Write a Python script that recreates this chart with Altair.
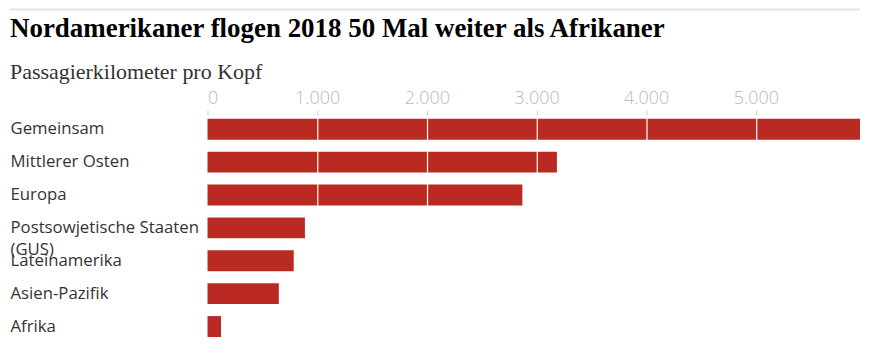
import altair as alt
import pandas as pd

regions = ["Gemeinsam", "Mittlerer Osten", "Europa", "Postsowjetische Staaten (GUS)",
           "Lateinamerika", "Asien-Pazifik", "Afrika"]
values = [5950, 3186, 2871, 888, 786, 650, 123]
x_ticks = [0, 1000, 2000, 3000, 4000, 5000]
title_text = "Nordamerikaner flogen 2018 50 Mal weiter als Afrikaner"
subtitle_text = "Passagierkilometer pro Kopf"

df = pd.DataFrame({"region": regions, "value": values})
one = pd.DataFrame({"k": [0]})

W, H = 654, 226
RED = "#ba2a23"

bars = alt.Chart(df).mark_bar(color=RED).encode(
    x=alt.X("value:Q",
            scale=alt.Scale(domain=[0, max(values)], nice=False, zero=True),
            axis=alt.Axis(orient="top", values=x_ticks, title=None,
                          labelExpr="replace(format(datum.value, ','), ',', '.')",
                          labelFont="Open Sans", labelFontSize=18, labelColor="#bababa",
                          labelFontWeight=300,
                          labelPadding=3, tickSize=5, tickColor="#cfcfcf", tickWidth=1,
                          domain=False, grid=True,
                          gridColor={"condition": {"test": "datum.value == 0", "value": "transparent"},
                                     "value": "#ffffff"},
                          gridWidth=1.2,
                          labelFlush=True, zindex=1)),
    y=alt.Y("region:N", sort=regions,
            scale=alt.Scale(paddingInner=0.3636, paddingOuter=0.11),
            axis=alt.Axis(title=None, ticks=False, domain=False, grid=False,
                          labelAlign="left", labelPadding=198,
                          labelBaseline="middle",
                          labelFont="Open Sans", labelFontSize=16.8, labelColor="#333333",
                          labelLineHeight=22, labelLimit=0,
                          labelExpr="datum.label == 'Postsowjetische Staaten (GUS)' ? ['Postsowjetische Staaten', '(GUS)'] : datum.label")),
)

top_rule = alt.Chart(one).mark_rule(color="#e3e3e3", strokeWidth=2).encode(
    x=alt.value(-198), x2=alt.value(W), y=alt.value(-106)
)

title = alt.Chart(one).mark_text(
    text=title_text, align="left", baseline="alphabetic",
    font="Liberation Serif", fontSize=27, fontWeight="bold", color="#000000"
).encode(x=alt.value(-198), y=alt.value(-78))

subtitle = alt.Chart(one).mark_text(
    text=subtitle_text, align="left", baseline="alphabetic",
    font="Liberation Serif", fontSize=22, color="#333333"
).encode(x=alt.value(-198), y=alt.value(-36))

chart = alt.layer(top_rule, title, subtitle, bars).properties(
    width=W, height=H,
    autosize=alt.AutoSizeParams(type="none"),
    padding={"left": 200, "top": 107, "right": 5, "bottom": 10},
).configure_view(stroke=None)

chart.save("out.html", embed_options={"renderer": "svg", "actions": False})
